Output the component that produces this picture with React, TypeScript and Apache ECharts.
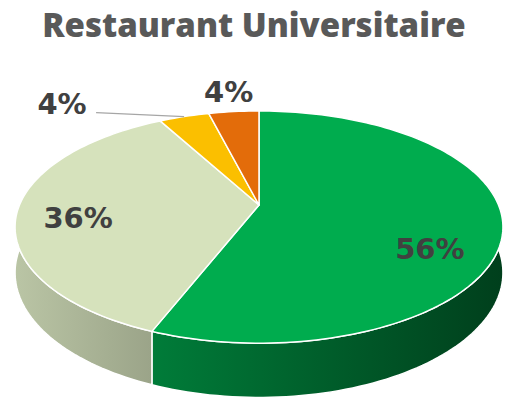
import React, { useEffect, useRef } from "react";
import * as echarts from "echarts";

const categories = ["Catégorie 1", "Catégorie 2", "Catégorie 3", "Catégorie 4"];
const values = [56, 36, 4, 4];
const topColors = ["#00AC4E", "#D6E2BC", "#FBBF00", "#E36C0A"];
const sideColors = [
  ["#007C39", "#003F1C"],
  ["#BAC5A5", "#99A287"],
  ["#C99900", "#A07A00"],
  ["#B55608", "#8A4106"],
];
const labelTexts = ["56%", "36%", "4%", "4%"];

// geometry (not data)
const CX = 259, CY = 205, RX = 239.5, RY = 111.9, K = 0.19, T = 44;
const labelR = [0.7, 0.75, 1, 1];
const labelOffsets = [[2, 29], [0, 8], [-122, -13], [-5, -20]];
const showLeader = [false, false, true, false];

function proj(theta: number, r: number, h: number): number[] {
  const u = r * Math.sin(theta);
  const v = -r * Math.cos(theta);
  const w = 1 - K * v;
  return [CX + (RX * u) / w, CY + (RY * v + h * T) / w];
}

const total = values.reduce((a, b) => a + b, 0);
function angles(i: number): number[] {
  let s = 0;
  for (let j = 0; j < i; j++) s += values[j];
  const a0 = (s / total) * Math.PI * 2;
  const a1 = ((s + values[i]) / total) * Math.PI * 2;
  return [a0, a1];
}
function arc(a0: number, a1: number, h: number): number[][] {
  const n = Math.max(4, Math.ceil(((a1 - a0) / (Math.PI * 2)) * 240));
  const pts: number[][] = [];
  for (let k = 0; k <= n; k++) pts.push(proj(a0 + ((a1 - a0) * k) / n, 1, h));
  return pts;
}

export default function App() {
  const ref = useRef<HTMLDivElement>(null);
  useEffect(() => {
    document.body.style.margin = "0";
    const chart = echarts.init(ref.current!, null, { renderer: "svg" });
    const data = values.map((v, i) => ({ name: categories[i], value: v }));
    chart.setOption({
      animation: false,
      backgroundColor: "#ffffff",
      title: {
        text: "Restaurant Universitaire",
        left: 249,
        top: 3,
        textAlign: "center",
        textStyle: {
          fontFamily: "Open Sans",
          fontWeight: 800,
          fontSize: 33,
          color: "#595959",
        },
      },
      series: [
        {
          type: "custom",
          name: "sides",
          coordinateSystem: "none",
          z: 1,
          data,
          renderItem: (params: any, api: any) => {
            const i = params.dataIndex;
            const [a0, a1] = angles(i);
            const top = arc(a0, a1, 0);
            const bot = arc(a0, a1, 1).reverse();
            return {
              type: "polygon",
              shape: { points: top.concat(bot) },
              style: {
                fill: {
                  type: "linear",
                  x: 0, y: 0, x2: 1, y2: 0,
                  colorStops: [
                    { offset: 0, color: sideColors[i][0] },
                    { offset: 1, color: sideColors[i][1] },
                  ],
                },
                stroke: "#ffffff",
                lineWidth: 1.5,
                lineJoin: "round",
              },
            };
          },
        },
        {
          type: "custom",
          name: "tops",
          coordinateSystem: "none",
          z: 2,
          data,
          renderItem: (params: any, api: any) => {
            const i = params.dataIndex;
            const [a0, a1] = angles(i);
            const pts = [proj(0, 0, 0)].concat(arc(a0, a1, 0));
            return {
              type: "polygon",
              shape: { points: pts },
              style: { fill: topColors[i], stroke: "#ffffff", lineWidth: 1.5, lineJoin: "round" },
            };
          },
        },
        {
          type: "custom",
          name: "labels",
          coordinateSystem: "none",
          z: 3,
          data,
          renderItem: (params: any, api: any) => {
            const i = params.dataIndex;
            const [a0, a1] = angles(i);
            const mid = (a0 + a1) / 2;
            const p = proj(mid, labelR[i], 0);
            const lx = p[0] + labelOffsets[i][0];
            const ly = p[1] + labelOffsets[i][1];
            const children: any[] = [
              {
                type: "text",
                style: {
                  text: labelTexts[i],
                  x: lx,
                  y: ly,
                  align: "center",
                  verticalAlign: "middle",
                  fontFamily: "DejaVu Sans",
                  fontWeight: "bold",
                  fontSize: 29,
                  fill: "#404040",
                },
              },
            ];
            if (showLeader[i]) {
              const e = proj(mid, 1, 0);
              children.unshift({
                type: "polyline",
                shape: { points: [[lx + 34, ly + 9], e] },
                style: { stroke: "#a6a6a6", lineWidth: 1.3, fill: "none" },
              });
            }
            return { type: "group", children };
          },
        },
      ],
    });
    return () => chart.dispose();
  }, []);
  return <div ref={ref} style={{ width: 506, height: 406 }} />;
}
